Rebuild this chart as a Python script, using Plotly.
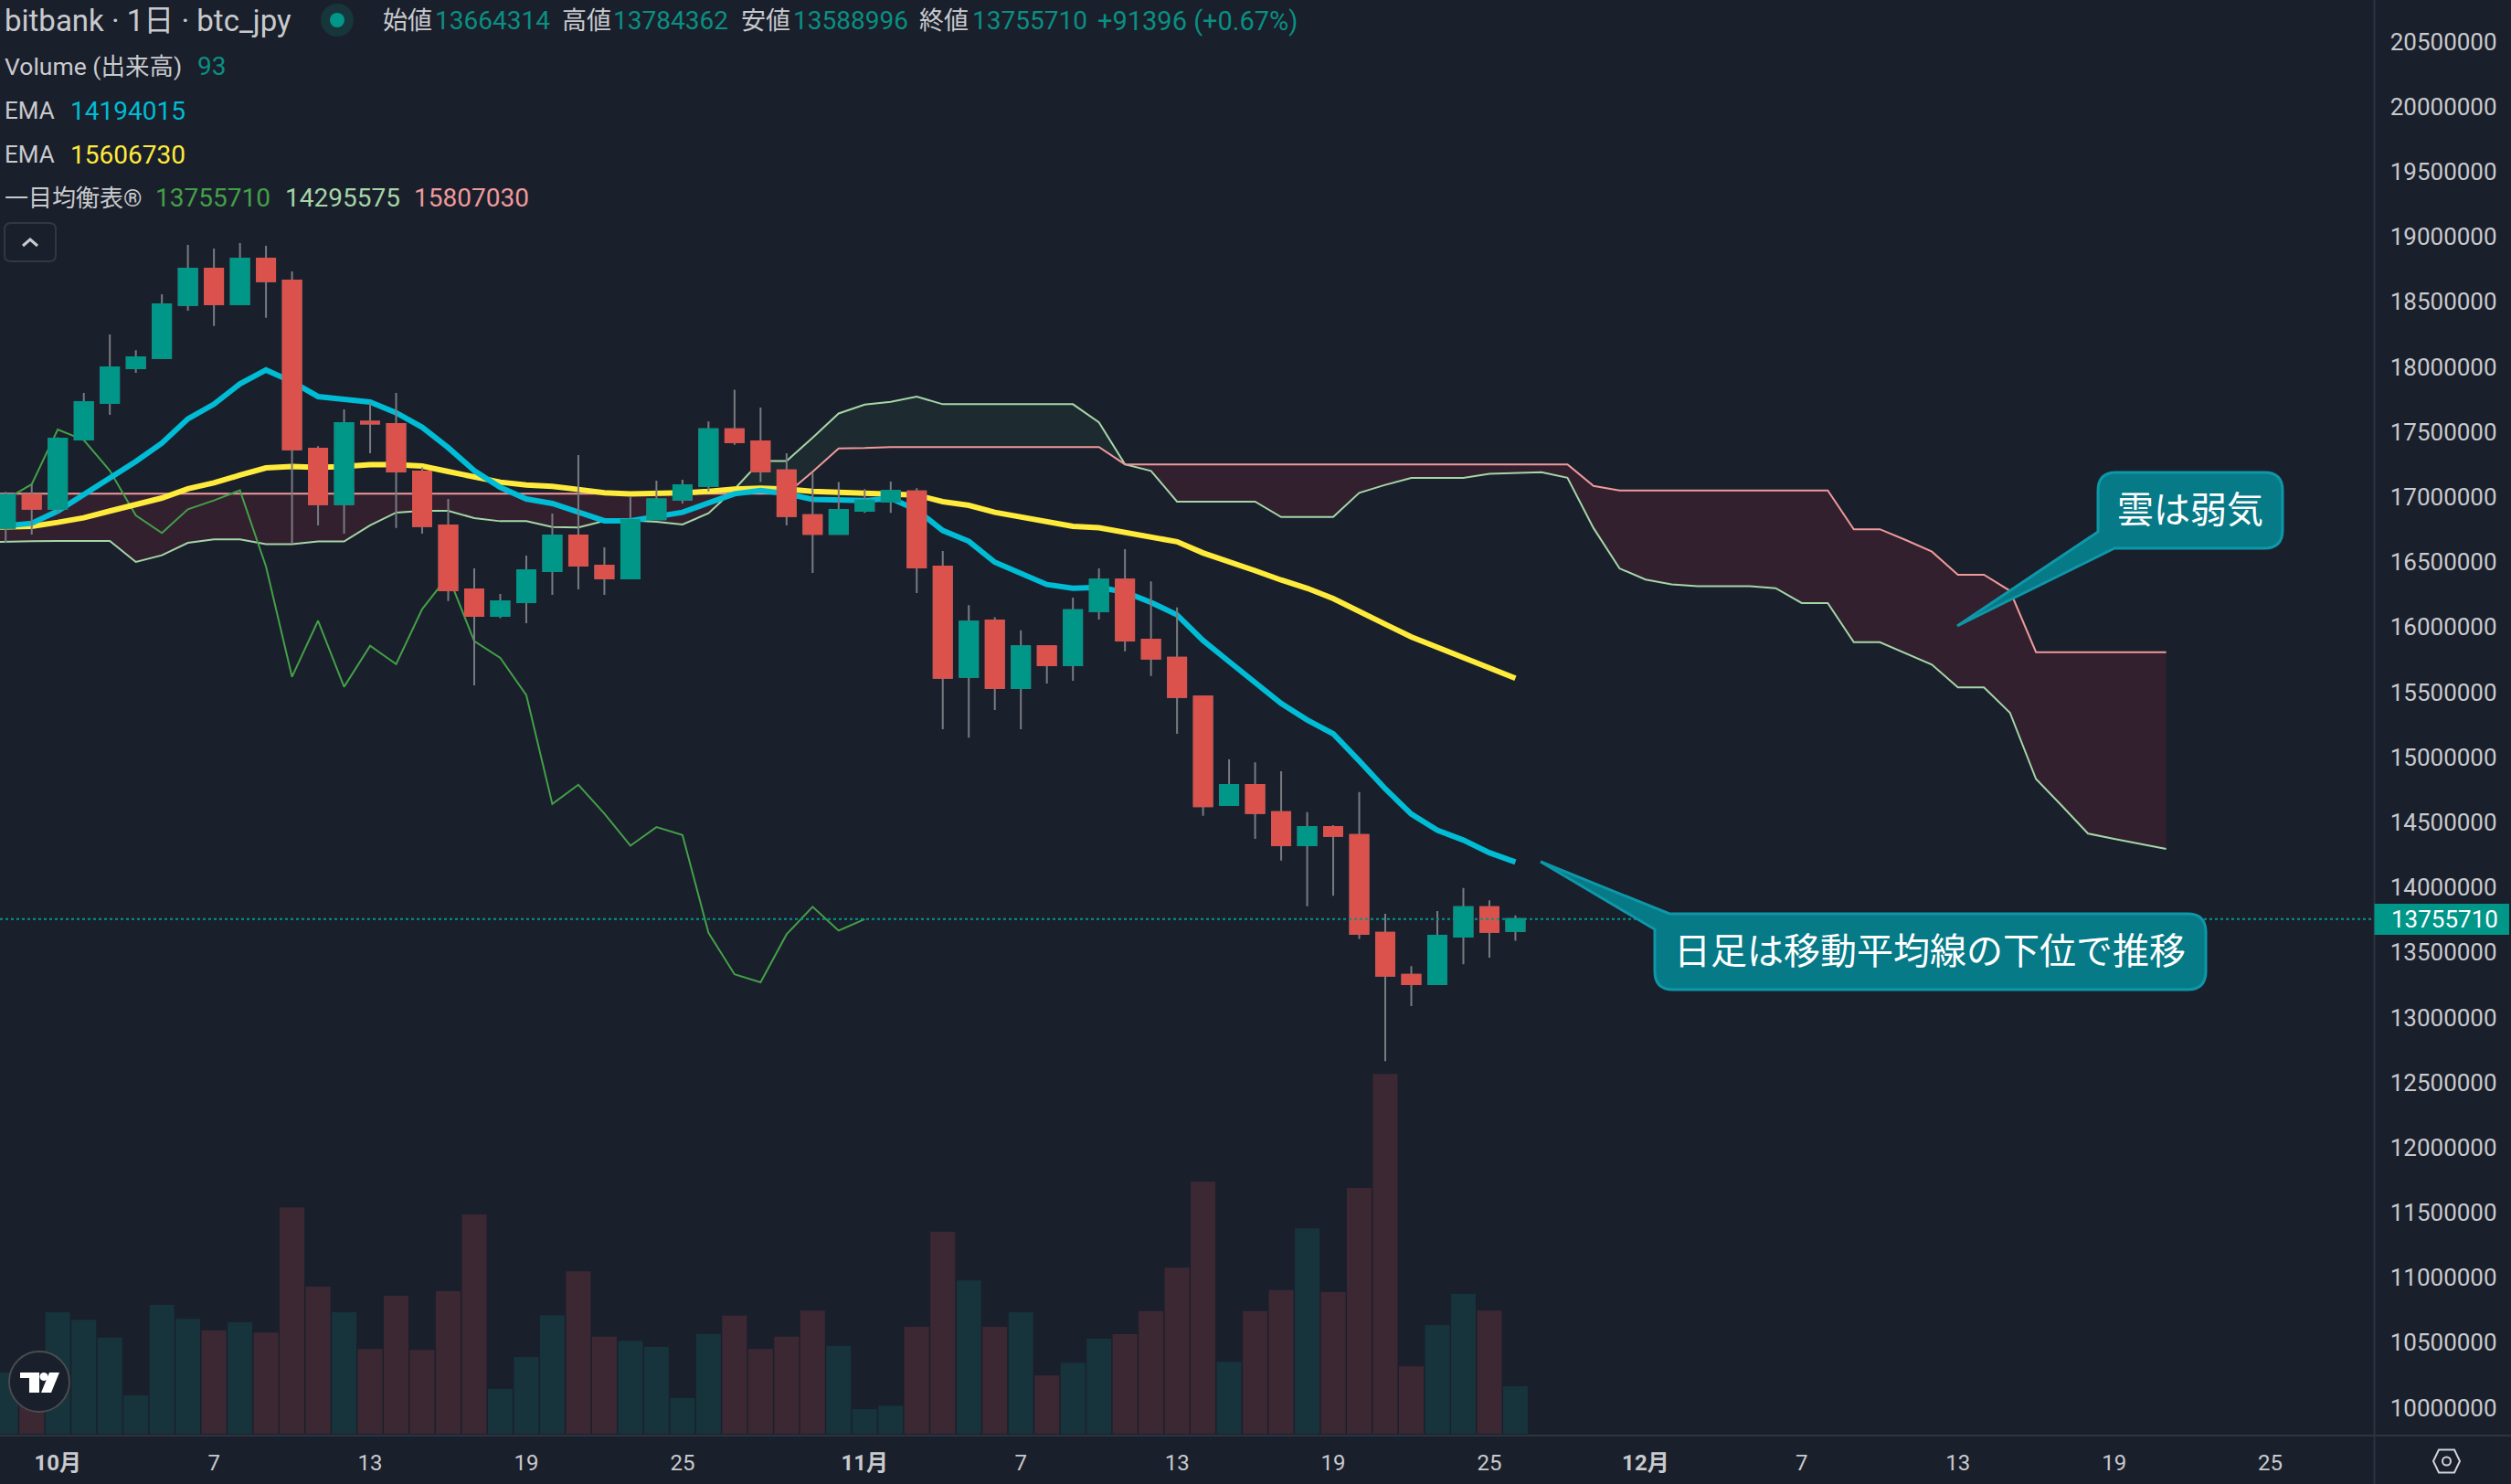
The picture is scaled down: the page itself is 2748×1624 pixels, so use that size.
# bitbank btc_jpy daily chart, dark theme, with cloud + EMAs + two callouts
import numpy as np
import pandas as pd
import plotly.graph_objects as go

W, H = 2748, 1624
AXIS_X = 2598.5   # price scale starts here
AXIS_Y = 1571     # time scale starts here

# candles, 29 Sep to 26 Nov (yen)
candle_dates = pd.date_range("2025-09-29", periods=59)
opens = [16763, 17016, 16910, 17442, 17723, 17990, 18069, 18476, 18755, 18481,
         18832, 18664, 17372, 16945, 17578, 17561, 17196, 16782, 16290, 16086,
         16192, 16430, 16704, 16473, 16374, 16828, 16979, 17086, 17520, 17427,
         17204, 16860, 16717, 16893, 16964, 17043, 16466, 15617, 16051, 15531,
         15853, 15707, 16122, 16366, 15904, 15764, 15467, 14632, 14786, 14578,
         14323, 14463, 14402, 13650, 13327, 13255, 13621, 13847, 13664.314]
highs = [17039, 17098, 17460, 17800, 18250, 18128, 18558, 18938, 18909, 18952,
         18931, 18734, 17390, 17674, 17725, 17800, 17227, 16985, 16451, 16255,
         16550, 16873, 17322, 16613, 17004, 17126, 17133, 17581, 17825, 17688,
         17337, 17187, 17115, 17061, 17119, 17068, 16585, 16169, 16076, 15975,
         15853, 16226, 16452, 16599, 16352, 16151, 15467, 14983, 14961, 14893,
         14578, 14477, 14732, 13796, 13395, 13818, 13994, 13900, 13784.362]
lows = [16646, 16711, 16875, 17442, 17632, 17955, 18062, 18432, 18315, 18481,
        18378, 16641, 16782, 16718, 17337, 16763, 16718, 16201, 15552, 16068,
        16030, 16248, 16290, 16248, 16374, 16828, 16950, 17043, 17402, 17115,
        16782, 16416, 16717, 16878, 16878, 16262, 15216, 15151, 15362, 15216,
        15567, 15588, 16058, 15814, 15624, 15180, 14549, 14632, 14373, 14205,
        13854, 13936, 13603, 12664, 13087, 13255, 13409, 13460, 13588.996]
closes = [17016, 16910, 17449, 17730, 17997, 18074, 18481, 18755, 18481, 18832,
          18659, 17367, 16945, 17568, 17564, 17196, 16777, 16283, 16086, 16199,
          16437, 16704, 16473, 16374, 16824, 16982, 17090, 17520, 17420, 17197,
          16853, 16717, 16900, 16972, 17047, 16459, 15610, 16043, 15531, 15853,
          15707, 16130, 16366, 15897, 15757, 15463, 14624, 14786, 14571, 14323,
          14463, 14395, 13642, 13320, 13255, 13628, 13847, 13657, 13755.710]
volumes = [120, 111, 238, 223, 188, 75, 252, 225, 202, 218, 198, 443, 288, 238,
           166, 270, 164, 279, 429, 88, 150, 232, 318, 190, 182, 170, 70, 195,
           231, 166, 190, 241, 172, 48, 55, 209, 395, 300, 209, 238, 114, 139,
           186, 195, 240, 325, 493, 141, 240, 281, 402, 277, 481, 704, 132, 213,
           274, 241, 93]

# indicator lines start one day earlier so they reach the left edge
line_dates = pd.date_range("2025-09-28", periods=85)
ema_fast = [16760, 16775, 16798, 16892, 17016, 17145, 17273, 17414, 17601, 17713,
            17870, 17976, 17887, 17772, 17749, 17730, 17648, 17536, 17379, 17203,
            17074, 16985, 16950, 16880, 16817, 16817, 16846, 16882, 16954, 17025,
            17050, 17025, 16982, 16972, 16972, 16990, 16900, 16742, 16660, 16499,
            16409, 16327, 16298, 16305, 16269, 16190, 16094, 15897, 15735, 15574,
            15413, 15287, 15180, 14972, 14757, 14563, 14438, 14363, 14266, 14194.015]
ema_slow = [16765, 16770, 16775, 16805, 16840, 16892, 16938, 16992, 17063, 17109,
            17168, 17224, 17234, 17227, 17234, 17248, 17248, 17238, 17196, 17152,
            17114, 17093, 17081, 17058, 17032, 17023, 17025, 17032, 17043, 17061,
            17068, 17061, 17043, 17036, 17032, 17032, 17015, 16964, 16936, 16882,
            16846, 16800, 16774, 16764, 16728, 16696, 16656, 16570, 16506, 16434,
            16362, 16298, 16219, 16126, 16022, 15925, 15843, 15768, 15682, 15606.730]
chikou = [16960, 16981, 17098, 17519, 17437, 17203, 16859, 16723, 16906, 16974,
          17051, 16466, 15618, 16049, 15541, 15857, 15716, 16138, 16395, 15892,
          15763, 15478, 14640, 14788, 14566, 14320, 14463, 14402, 13650, 13331,
          13270, 13639, 13850, 13667, 13755.710]
senkou_a = [16653, 16658, 16660, 16662, 16662, 16662, 16501, 16552, 16648, 16674,
            16674, 16637, 16637, 16658, 16658, 16782, 16880, 16894, 16894, 16838,
            16814, 16814, 16770, 16765, 16817, 16820, 16810, 16789, 16875, 17061,
            17276, 17276, 17455, 17642, 17710, 17731, 17771, 17713, 17713, 17713,
            17713, 17713, 17713, 17574, 17251, 17201, 16964, 16964, 16964, 16964,
            16846, 16846, 16846, 17032, 17093, 17147, 17147, 17147, 17179, 17187,
            17191, 17148, 16761, 16451, 16365, 16328, 16314, 16314, 16314, 16299,
            16185, 16185, 15884, 15884, 15798, 15712, 15537, 15537, 15342, 14832,
            14625, 14413, 14373, 14336, 14295.575]
senkou_b = [17025, 17025, 17025, 17025, 17025, 17025, 17025, 17025, 17025, 17025,
            17025, 17025, 17025, 17025, 17025, 17025, 17025, 17025, 17025, 17025,
            17025, 17025, 17025, 17025, 17025, 17025, 17025, 17025, 17025, 17025,
            17025, 17025, 17194, 17373, 17376, 17384, 17384, 17384, 17384, 17384,
            17384, 17384, 17384, 17384, 17251, 17251, 17251, 17251, 17251, 17251,
            17251, 17251, 17251, 17251, 17251, 17251, 17251, 17251, 17251, 17251,
            17251, 17251, 17085, 17050, 17050, 17050, 17050, 17050, 17050, 17050,
            17050, 17050, 16752, 16752, 16669, 16580, 16403, 16403, 16279, 15807.030,
            15807.030, 15807.030, 15807.030, 15807.030, 15807.030]

last_price = 13755710
price_ticks = [10000000 + 500000 * i for i in range(22)]
time_tickvals = ["2025-10-01", "2025-10-07", "2025-10-13", "2025-10-19", "2025-10-25",
                 "2025-11-01", "2025-11-07", "2025-11-13", "2025-11-19", "2025-11-25",
                 "2025-12-01", "2025-12-07", "2025-12-13", "2025-12-19", "2025-12-25"]
time_ticktext = ["<b>10月</b>", "7", "13", "19", "25",
                 "<b>11月</b>", "7", "13", "19", "25",
                 "<b>12月</b>", "7", "13", "19", "25"]

BG = "#1A1F2C"
BORDER = "#2E3340"
TEXT = "#C8CACD"
UP = "#009688"
UP_TEXT = "#0A8F82"
DOWN = "#DB524C"
UP_VOL = "#17333C"
DOWN_VOL = "#3C2832"
WICK = "#787B80"
CLOUD_UP = "#1D2A30"
CLOUD_DOWN = "#32202F"
FONT = "Roboto, 'Noto Sans CJK JP'"


def yen(values):
    return np.array(values, dtype=float) * 1000


def px(x):
    return x / W


def py(y):
    return 1 - y / H


def pt(x, y):
    return f"{px(x):.5f},{py(y):.5f}"


def cloud_polygons(a, b):
    # split the cloud where the two spans cross, so each side gets its own colour
    parts, cur = [], [(0.0, a[0], b[0])]
    for i in range(1, len(a)):
        d0, d1 = a[i - 1] - b[i - 1], a[i] - b[i]
        if d0 != 0 and d0 * d1 <= 0:
            t = d0 / (d0 - d1)
            val = a[i - 1] + t * (a[i] - a[i - 1])
            cur.append((i - 1 + t, val, val))
            parts.append(cur)
            cur = [(i - 1 + t, val, val)]
        cur.append((float(i), a[i], b[i]))
    parts.append(cur)
    return parts


fig = go.Figure()

# volume sits at the back, on its own hidden axis
vol_colors = [UP_VOL if c >= o else DOWN_VOL for o, c in zip(opens, closes)]
fig.add_trace(go.Bar(x=candle_dates, y=volumes, marker_color=vol_colors,
                     marker_line_width=0, yaxis="y", name="Volume"))

# cloud
a, b = yen(senkou_a), yen(senkou_b)
for part in cloud_polygons(a, b):
    d = np.array([p[0] for p in part])
    pa = np.array([p[1] for p in part])
    pb = np.array([p[2] for p in part])
    xs = line_dates[0] + pd.to_timedelta(np.r_[d, d[::-1]], unit="D")
    color = CLOUD_UP if (pa - pb).sum() > 0 else CLOUD_DOWN
    fig.add_trace(go.Scatter(x=xs, y=np.r_[pa, pb[::-1]], fill="toself", fillcolor=color,
                             mode="none", yaxis="y2", hoverinfo="skip"))

fig.add_trace(go.Scatter(x=line_dates, y=a, mode="lines", yaxis="y2",
                         line=dict(color="#A5D6A7", width=2), name="Senkou A"))
fig.add_trace(go.Scatter(x=line_dates, y=b, mode="lines", yaxis="y2",
                         line=dict(color="#EF9A9A", width=2), name="Senkou B"))
fig.add_trace(go.Scatter(x=line_dates[:len(chikou)], y=yen(chikou), mode="lines", yaxis="y2",
                         line=dict(color="#43A047", width=2), name="Chikou"))
fig.add_trace(go.Scatter(x=line_dates[:len(ema_slow)], y=yen(ema_slow), mode="lines", yaxis="y2",
                         line=dict(color="#FFEB3B", width=6), name="EMA"))
fig.add_trace(go.Scatter(x=line_dates[:len(ema_fast)], y=yen(ema_fast), mode="lines", yaxis="y2",
                         line=dict(color="#00BCD4", width=6), name="EMA"))

# candles in two passes: grey wicks first, then bodies outlined in their own colour
o, h, l, c = yen(opens), yen(highs), yen(lows), yen(closes)
grey = dict(line=dict(color=WICK, width=2), fillcolor=WICK)
fig.add_trace(go.Candlestick(x=candle_dates, open=o, high=h, low=l, close=c, yaxis="y3",
                             increasing=grey, decreasing=grey, name="wick"))
fig.add_trace(go.Candlestick(x=candle_dates, open=o, close=c, yaxis="y3",
                             high=np.maximum(o, c), low=np.minimum(o, c),
                             increasing=dict(line=dict(color=UP, width=2), fillcolor=UP),
                             decreasing=dict(line=dict(color=DOWN, width=2), fillcolor=DOWN),
                             name="body"))

# overlay shapes, drawn in page pixels
shapes = []
shapes.append(dict(type="line", xref="paper", yref="y2", x0=0, x1=px(AXIS_X),
                   y0=last_price, y1=last_price, line=dict(color=UP, width=2, dash="dot")))
shapes.append(dict(type="line", xref="paper", yref="paper", x0=px(AXIS_X), x1=px(AXIS_X),
                   y0=0, y1=1, line=dict(color=BORDER, width=2)))
shapes.append(dict(type="line", xref="paper", yref="paper", x0=0, x1=1,
                   y0=py(AXIS_Y), y1=py(AXIS_Y), line=dict(color=BORDER, width=2)))
shapes.append(dict(type="rect", xref="paper", yref="paper", x0=px(AXIS_X), x1=px(2746),
                   y0=py(989), y1=py(1023), fillcolor=UP, line_width=0))


def callout(points):
    return dict(type="path", xref="paper", yref="paper", path=points,
                fillcolor="#067A87", line=dict(color="#0E97A8", width=3))


r = 20
x0, x1, y0, y1 = 2296, 2498, 517, 600
shapes.append(callout(
    f"M {pt(x0, 582)} L {pt(x0, y0 + r)} Q {pt(x0, y0)} {pt(x0 + r, y0)} L {pt(x1 - r, y0)} "
    f"Q {pt(x1, y0)} {pt(x1, y0 + r)} L {pt(x1, y1 - r)} Q {pt(x1, y1)} {pt(x1 - r, y1)} "
    f"L {pt(2314, y1)} L {pt(2142, 685)} Z"))
x0, x1, y0, y1 = 1811, 2414, 1000, 1083
shapes.append(callout(
    f"M {pt(1827, y0)} L {pt(x1 - r, y0)} Q {pt(x1, y0)} {pt(x1, y0 + r)} L {pt(x1, y1 - r)} "
    f"Q {pt(x1, y1)} {pt(x1 - r, y1)} L {pt(x0 + r, y1)} Q {pt(x0, y1)} {pt(x0, y1 - r)} "
    f"L {pt(x0, 1017)} L {pt(1686, 943)} Z"))

# status dot next to the title
shapes.append(dict(type="circle", xref="paper", yref="paper", x0=px(351), x1=px(387),
                   y0=py(4), y1=py(40), fillcolor="#17363C", line_width=0))
shapes.append(dict(type="circle", xref="paper", yref="paper", x0=px(361), x1=px(377),
                   y0=py(14), y1=py(30), fillcolor=UP, line_width=0))

# collapse button
shapes.append(dict(type="path", xref="paper", yref="paper", line=dict(color="#323743", width=2),
                   path=f"M {pt(12, 244)} L {pt(54, 244)} Q {pt(61, 244)} {pt(61, 251)} L {pt(61, 279)} "
                        f"Q {pt(61, 286)} {pt(54, 286)} L {pt(12, 286)} Q {pt(5, 286)} {pt(5, 279)} "
                        f"L {pt(5, 251)} Q {pt(5, 244)} {pt(12, 244)} Z"))
shapes.append(dict(type="path", xref="paper", yref="paper", line=dict(color=TEXT, width=3),
                   path=f"M {pt(25, 269)} L {pt(33, 262)} L {pt(41, 269)}"))

# logo badge
shapes.append(dict(type="circle", xref="paper", yref="paper", x0=px(10), x1=px(76),
                   y0=py(1479), y1=py(1545), fillcolor=BG, line=dict(color="#4A4C50", width=2)))
for path in [f"M {pt(22, 1502)} L {pt(43, 1502)} L {pt(43, 1524)} L {pt(32, 1524)} L {pt(32, 1508)} L {pt(22, 1508)} Z",
             f"M {pt(54, 1502)} L {pt(65, 1502)} L {pt(56, 1524)} L {pt(45, 1524)} Z"]:
    shapes.append(dict(type="path", xref="paper", yref="paper", path=path,
                       fillcolor="#FFFFFF", line_width=0))
shapes.append(dict(type="circle", xref="paper", yref="paper", x0=px(43.5), x1=px(52.5),
                   y0=py(1502), y1=py(1511), fillcolor="#FFFFFF", line_width=0))

# settings icon, bottom right
shapes.append(dict(type="path", xref="paper", yref="paper", line=dict(color="#D0D2D4", width=2),
                   path=f"M {pt(2663, 1599)} L {pt(2669, 1586.5)} L {pt(2686, 1586.5)} L {pt(2692, 1599)} "
                        f"L {pt(2686, 1611.5)} L {pt(2669, 1611.5)} Z"))
shapes.append(dict(type="circle", xref="paper", yref="paper", x0=px(2673), x1=px(2682),
                   y0=py(1594.5), y1=py(1603.5), line=dict(color="#D0D2D4", width=2)))

# status lines, one annotation per colour so each stays where it is in the picture
labels = [
    ("bitbank · 1日 · btc_jpy", TEXT, 3, 23, 33),
    ("始値", TEXT, 417, 23, 27), ("13664314", UP_TEXT, 474, 23, 28),
    ("高値", TEXT, 613, 23, 27), ("13784362", UP_TEXT, 669, 23, 28),
    ("安値", TEXT, 809, 23, 27), ("13588996", UP_TEXT, 866, 23, 28),
    ("終値", TEXT, 1004, 23, 27), ("13755710", UP_TEXT, 1062, 23, 28),
    ("+91396 (+0.67%)", UP_TEXT, 1199, 23, 29),
    ("Volume (出来高)", TEXT, 3, 73, 26.5), ("93", UP_TEXT, 214, 73, 28),
    ("EMA", TEXT, 3, 121, 26), ("14194015", "#00BCD4", 75, 121, 28),
    ("EMA", TEXT, 3, 169, 26), ("15606730", "#FFEB3B", 75, 169, 28),
    ("一目均衡表®", TEXT, 3, 217, 26), ("13755710", "#43A047", 168, 217, 28),
    ("14295575", "#A5D6A7", 310, 217, 28), ("15807030", "#EF9A9A", 451, 217, 28),
]
annotations = [dict(text=t, x=px(x), y=py(y), xref="paper", yref="paper", xanchor="left",
                    yanchor="middle", showarrow=False, font=dict(family=FONT, size=s, color=col))
               for t, col, x, y, s in labels]
for t, x, y, s in [("13755710", 2675, 1006, 26),
                   ("雲は弱気", 2397, 558, 40),
                   ("日足は移動平均線の下位で推移", 2112, 1041, 40)]:
    annotations.append(dict(text=t, x=px(x), y=py(y), xref="paper", yref="paper", xanchor="center",
                            yanchor="middle", showarrow=False,
                            font=dict(family=FONT, size=s, color="#FFFFFF")))

day = pd.Timedelta(days=1)
oct1 = pd.Timestamp("2025-10-01")
x_range = [oct1 - 2.219 * day, oct1 + 89.0 * day]
y_domain = [1 - AXIS_Y / H, 1]
price_range = [9786000, 20820000]

fig.update_layout(
    width=W, height=H, margin=dict(l=0, r=0, t=0, b=0),
    paper_bgcolor=BG, plot_bgcolor=BG, showlegend=False,
    bargap=0.05, boxgap=0.3, boxgroupgap=0, boxmode="overlay",
    xaxis=dict(type="date", domain=[0, AXIS_X / W], range=x_range, anchor="y",
               rangeslider=dict(visible=False), showgrid=False, zeroline=False,
               tickmode="array", tickvals=time_tickvals, ticktext=time_ticktext,
               ticks="outside", ticklen=8, tickcolor=BG, tickangle=0,
               tickfont=dict(family=FONT, size=24, color=TEXT)),
    yaxis=dict(domain=y_domain, range=[-3.6, 2806], visible=False, fixedrange=True),
    yaxis2=dict(domain=y_domain, range=price_range, overlaying="y", side="right", anchor="x",
                showgrid=False, zeroline=False, tickmode="array", tickvals=price_ticks,
                tickformat="d", ticks="outside", ticklen=11, tickcolor=BG,
                tickfont=dict(family=FONT, size=26, color=TEXT)),
    yaxis3=dict(domain=y_domain, range=price_range, overlaying="y", visible=False),
    shapes=shapes, annotations=annotations,
)

fig.write_html("out.html", config={"displayModeBar": False},
               post_script="document.body.style.margin='0';")
